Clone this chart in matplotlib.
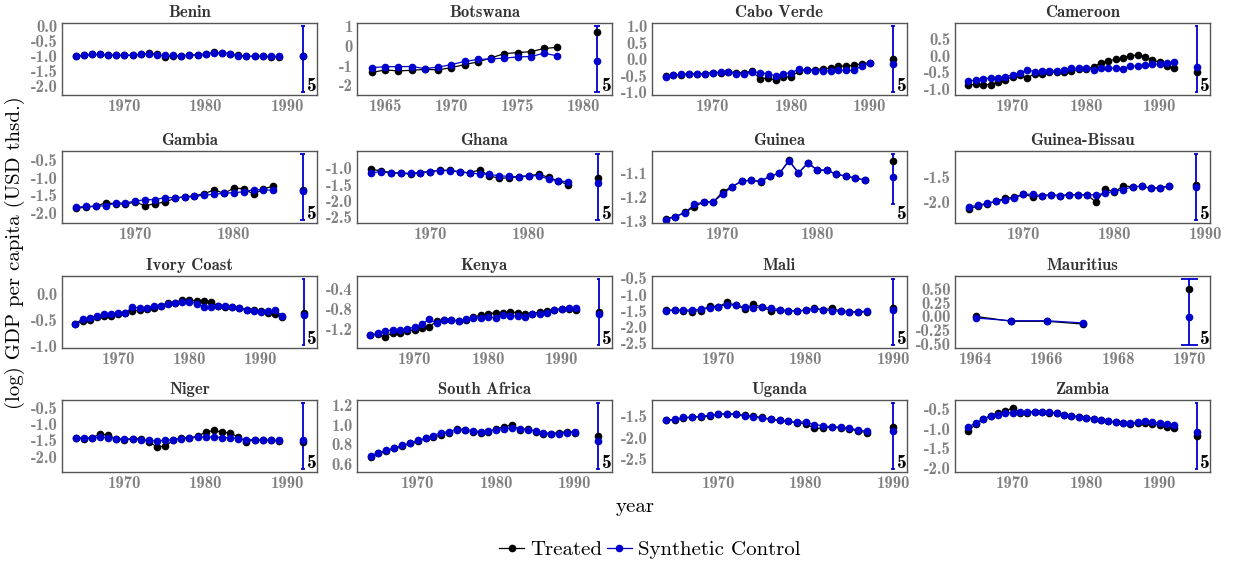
import warnings
import matplotlib
matplotlib.use('Agg')
import matplotlib.pyplot as plt
import numpy as np
from matplotlib.ticker import FixedLocator, MultipleLocator
from matplotlib.lines import Line2D

warnings.filterwarnings('ignore')

plt.rcParams['font.family'] = 'cmb10'
plt.rcParams['axes.unicode_minus'] = False

BLUE = '#0000CD'
FIRST_YEAR = 1964

countries = ['Benin', 'Botswana', 'Cabo Verde', 'Cameroon',
             'Gambia', 'Ghana', 'Guinea', 'Guinea-Bissau',
             'Ivory Coast', 'Kenya', 'Mali', 'Mauritius',
             'Niger', 'South Africa', 'Uganda', 'Zambia']

#
# Treated series (black) and synthetic control (blue), one list per country,
# starting in 1964
#
treated = [
    [-1.00, -0.97, -0.94, -0.94, -0.95, -0.97, -0.97, -0.96, -0.94, -0.90, -0.92, -1.02, -1.00,
     -0.98, -0.96, -0.96, -0.94, -0.87, -0.89, -0.91, -0.97, -1.00, -1.00, -1.00, -1.02, -1.02],
    [-1.35, -1.22, -1.27, -1.24, -1.19, -1.22, -1.10, -0.95, -0.81, -0.61, -0.39, -0.34, -0.29,
     -0.13, -0.07],
    [-0.50, -0.48, -0.46, -0.44, -0.44, -0.44, -0.40, -0.40, -0.38, -0.40, -0.40, -0.36, -0.58,
     -0.57, -0.62, -0.54, -0.52, -0.36, -0.32, -0.32, -0.28, -0.27, -0.21, -0.20, -0.18, -0.13,
     -0.10],
    [-0.87, -0.85, -0.86, -0.86, -0.78, -0.71, -0.63, -0.57, -0.67, -0.53, -0.53, -0.50, -0.49,
     -0.48, -0.45, -0.41, -0.39, -0.34, -0.21, -0.16, -0.11, -0.07, -0.01, 0.02, -0.04, -0.13,
     -0.20, -0.30, -0.37],
    [-1.86, -1.83, -1.80, -1.71, -1.73, -1.75, -1.68, -1.79, -1.73, -1.69, -1.58, -1.54, -1.51,
     -1.45, -1.35, -1.44, -1.30, -1.31, -1.47, -1.32, -1.24],
    [-1.03, -1.08, -1.13, -1.15, -1.18, -1.13, -1.10, -1.06, -1.06, -1.11, -1.14, -1.05, -1.23,
     -1.31, -1.29, -1.26, -1.23, -1.18, -1.28, -1.39, -1.51],
    [-1.288, -1.280, -1.263, -1.240, -1.220, -1.220, -1.179, -1.157, -1.135, -1.131, -1.138,
     -1.114, -1.103, -1.050, -1.103, -1.059, -1.090, -1.090, -1.107, -1.114, -1.123, -1.130],
    [-2.14, -2.09, -2.04, -1.99, -1.93, -1.91, -1.85, -1.90, -1.88, -1.86, -1.88, -1.86, -1.86,
     -1.86, -2.01, -1.74, -1.81, -1.68, -1.70, -1.69, -1.73, -1.72, -1.69],
    [-0.57, -0.52, -0.49, -0.44, -0.41, -0.41, -0.38, -0.36, -0.32, -0.30, -0.29, -0.26, -0.22,
     -0.16, -0.16, -0.10, -0.11, -0.13, -0.12, -0.15, -0.22, -0.25, -0.25, -0.27, -0.30, -0.31,
     -0.32, -0.35, -0.38, -0.43],
    [-1.32, -1.30, -1.35, -1.27, -1.28, -1.23, -1.21, -1.17, -1.15, -1.04, -1.01, -1.01, -1.04,
     -1.01, -0.96, -0.92, -0.89, -0.87, -0.87, -0.85, -0.87, -0.89, -0.89, -0.85, -0.84, -0.81,
     -0.79, -0.79, -0.81],
    [-1.48, -1.48, -1.49, -1.52, -1.49, -1.35, -1.37, -1.24, -1.33, -1.43, -1.30, -1.38, -1.50,
     -1.48, -1.50, -1.50, -1.48, -1.42, -1.47, -1.42, -1.51, -1.52, -1.55, -1.52],
    [0.00, -0.09, -0.09, -0.14],
    [-1.42, -1.45, -1.43, -1.30, -1.35, -1.45, -1.50, -1.45, -1.45, -1.55, -1.70, -1.68, -1.50,
     -1.42, -1.42, -1.38, -1.25, -1.20, -1.25, -1.28, -1.40, -1.55, -1.48, -1.50, -1.50, -1.52],
    [0.67, 0.71, 0.73, 0.76, 0.78, 0.81, 0.83, 0.86, 0.87, 0.90, 0.92, 0.96, 0.95, 0.93, 0.92,
     0.93, 0.96, 0.98, 1.00, 0.95, 0.96, 0.93, 0.91, 0.91, 0.92, 0.93, 0.92],
    [-1.60, -1.58, -1.55, -1.52, -1.52, -1.50, -1.45, -1.45, -1.45, -1.48, -1.50, -1.53, -1.57,
     -1.60, -1.62, -1.65, -1.68, -1.78, -1.78, -1.75, -1.78, -1.80, -1.85, -1.88],
    [-1.05, -0.88, -0.75, -0.66, -0.58, -0.55, -0.45, -0.58, -0.58, -0.57, -0.57, -0.58, -0.60,
     -0.63, -0.66, -0.69, -0.71, -0.74, -0.78, -0.81, -0.83, -0.85, -0.87, -0.85, -0.84, -0.87,
     -0.90, -0.94, -0.98],
]

synthetic = [
    [-1.00, -0.97, -0.94, -0.94, -0.95, -0.97, -0.97, -0.96, -0.94, -0.91, -0.97, -0.97, -0.97,
     -0.98, -0.96, -0.96, -0.91, -0.88, -0.90, -0.91, -1.00, -1.00, -1.00, -1.00, -1.00, -1.00],
    [-1.10, -1.06, -1.05, -1.05, -1.15, -1.08, -0.95, -0.79, -0.69, -0.66, -0.62, -0.56, -0.54,
     -0.37, -0.51],
    [-0.52, -0.48, -0.45, -0.44, -0.44, -0.44, -0.40, -0.39, -0.38, -0.44, -0.44, -0.38, -0.40,
     -0.44, -0.50, -0.44, -0.40, -0.30, -0.32, -0.34, -0.34, -0.35, -0.33, -0.33, -0.33, -0.20,
     -0.10],
    [-0.76, -0.72, -0.69, -0.66, -0.66, -0.63, -0.57, -0.51, -0.42, -0.48, -0.45, -0.45, -0.45,
     -0.42, -0.38, -0.37, -0.37, -0.42, -0.36, -0.37, -0.37, -0.39, -0.31, -0.31, -0.29, -0.25,
     -0.25, -0.21, -0.20],
    [-1.83, -1.81, -1.80, -1.79, -1.72, -1.71, -1.66, -1.62, -1.62, -1.56, -1.56, -1.55, -1.53,
     -1.49, -1.47, -1.44, -1.42, -1.40, -1.34, -1.34, -1.36],
    [-1.13, -1.11, -1.14, -1.15, -1.15, -1.13, -1.10, -1.07, -1.07, -1.11, -1.15, -1.17, -1.19,
     -1.23, -1.25, -1.26, -1.23, -1.23, -1.33, -1.39, -1.41],
    [-1.293, -1.280, -1.265, -1.230, -1.220, -1.220, -1.188, -1.158, -1.135, -1.131, -1.136,
     -1.114, -1.103, -1.052, -1.100, -1.062, -1.090, -1.090, -1.107, -1.114, -1.123, -1.130],
    [-2.10, -2.07, -2.03, -1.99, -1.96, -1.93, -1.85, -1.85, -1.88, -1.86, -1.88, -1.86, -1.86,
     -1.86, -1.86, -1.83, -1.79, -1.76, -1.70, -1.69, -1.73, -1.72, -1.69],
    [-0.57, -0.47, -0.46, -0.41, -0.38, -0.38, -0.35, -0.35, -0.25, -0.26, -0.26, -0.22, -0.22,
     -0.19, -0.17, -0.14, -0.14, -0.18, -0.24, -0.24, -0.22, -0.22, -0.24, -0.26, -0.30, -0.33,
     -0.34, -0.32, -0.31, -0.41],
    [-1.32, -1.28, -1.23, -1.22, -1.22, -1.20, -1.15, -1.10, -1.00, -1.08, -1.01, -1.01, -1.03,
     -1.00, -0.97, -0.97, -0.95, -0.97, -0.91, -0.93, -0.93, -0.95, -0.90, -0.89, -0.88, -0.82,
     -0.79, -0.78, -0.77],
    [-1.50, -1.47, -1.48, -1.47, -1.45, -1.42, -1.37, -1.31, -1.33, -1.39, -1.40, -1.38, -1.42,
     -1.46, -1.49, -1.50, -1.48, -1.45, -1.46, -1.50, -1.51, -1.53, -1.52, -1.51],
    [-0.03, -0.08, -0.08, -0.12],
    [-1.42, -1.43, -1.42, -1.40, -1.42, -1.45, -1.47, -1.45, -1.48, -1.50, -1.52, -1.50, -1.48,
     -1.45, -1.43, -1.40, -1.40, -1.40, -1.42, -1.42, -1.45, -1.48, -1.48, -1.50, -1.50, -1.50],
    [0.68, 0.71, 0.74, 0.76, 0.79, 0.81, 0.84, 0.86, 0.89, 0.92, 0.93, 0.95, 0.95, 0.94, 0.93,
     0.94, 0.95, 0.96, 0.97, 0.96, 0.95, 0.94, 0.92, 0.91, 0.91, 0.92, 0.93],
    [-1.60, -1.57, -1.53, -1.52, -1.50, -1.48, -1.46, -1.44, -1.46, -1.50, -1.52, -1.55, -1.57,
     -1.60, -1.62, -1.64, -1.63, -1.70, -1.72, -1.75, -1.75, -1.78, -1.82, -1.85],
    [-0.95, -0.85, -0.75, -0.68, -0.63, -0.60, -0.58, -0.57, -0.56, -0.56, -0.56, -0.57, -0.60,
     -0.63, -0.66, -0.69, -0.71, -0.74, -0.77, -0.80, -0.82, -0.84, -0.85, -0.83, -0.80, -0.83,
     -0.85, -0.87, -0.90],
]

# post-period summary: year, interval, synthetic and treated values
err_year = [1992, 1981, 1993, 1995, 1987, 1987, 1988, 1989,
            1996, 1995, 1990, 1970, 1992, 1993, 1990, 1995]
err_lo = [-2.18, -2.33, -0.98, -1.07, -2.18, -2.58, -1.227, -2.36,
          -0.97, -1.51, -2.54, -0.52, -2.37, 0.55, -2.72, -2.03]
err_hi = [0.00, 1.00, 1.00, 0.87, -0.35, -0.57, -1.025, -1.05,
          0.29, -0.20, -0.53, 0.68, -0.37, 1.22, -1.20, -0.34]
post_synth = [-1.00, -0.76, -0.15, -0.35, -1.37, -1.44, -1.118, -1.71,
              -0.39, -0.90, -1.48, -0.01, -1.50, 0.83, -1.85, -1.08]
post_treated = [-1.00, 0.72, 0.00, -0.50, -1.35, -1.30, -1.051, -1.66,
                -0.36, -0.85, -1.40, 0.50, -1.55, 0.88, -1.75, -1.19]
n_post = [5] * 16

yticks = [
    [-2.0, -1.5, -1.0, -0.5, 0.0], [-2, -1, 0, 1], [-1.0, -0.5, 0.0, 0.5, 1.0],
    [-1.0, -0.5, 0.0, 0.5], [-2.0, -1.5, -1.0, -0.5], [-2.5, -2.0, -1.5, -1.0],
    [-1.3, -1.2, -1.1], [-2.0, -1.5], [-1.0, -0.5, 0.0], [-1.2, -0.8, -0.4],
    [-2.5, -2.0, -1.5, -1.0, -0.5], [-0.50, -0.25, 0.00, 0.25, 0.50],
    [-2.5, -2.0, -1.5, -1.0, -0.5], [0.6, 0.8, 1.0, 1.2], [-2.5, -2.0, -1.5],
    [-2.0, -1.5, -1.0, -0.5],
]
xstep = [10, 5, 10, 10, 10, 10, 10, 10, 10, 10, 10, 2, 10, 10, 10, 10]

W, H = 1233, 567
col_left = [62, 357, 652, 955]
row_top = [23, 151, 276, 400]
ax_w, ax_h = 255, 72

fig = plt.figure(figsize=(W / 100, H / 100), dpi=100)

for i, name in enumerate(countries):
    r, c = divmod(i, 4)
    ax = fig.add_axes([col_left[c] / W, 1 - (row_top[r] + ax_h) / H, ax_w / W, ax_h / H])
    years = np.arange(FIRST_YEAR, FIRST_YEAR + len(treated[i]))
    ax.plot(years, treated[i], '-o', color='black', ms=4.5, lw=0.9)
    ax.plot(years, synthetic[i], '-o', color=BLUE, ms=4.5, lw=0.9)

    ex = err_year[i]
    ax.vlines(ex, err_lo[i], err_hi[i], color=BLUE, lw=1.3)
    ax.hlines([err_lo[i], err_hi[i]], ex - 0.25, ex + 0.25, color=BLUE, lw=1.3)
    ax.plot(ex, post_treated[i], 'o', color='black', ms=4.5)
    ax.plot(ex, post_synth[i], 'o', color=BLUE, ms=4.5)

    m = 0.05 * (ex - years[0] + 0.5)
    ax.set_xlim(years[0] - 0.25 - m, ex + 0.25 + m)
    ax.yaxis.set_major_locator(FixedLocator(yticks[i]))
    ax.xaxis.set_major_locator(MultipleLocator(xstep[i]))
    ax.tick_params(length=0, labelsize=12, labelcolor='#808080', pad=3)
    for s in ax.spines.values():
        s.set_color('#555555')
        s.set_linewidth(1)
    ax.set_title(name, fontsize=12, color='#333333', pad=4)
    ax.text(1.0, 0.0, str(n_post[i]), transform=ax.transAxes, ha='right',
            va='bottom', fontsize=14, color='black')

fig.text(635 / W, 1 - 507 / H, 'year', ha='center', va='center',
         fontsize=15, family='cmr10')
fig.text(15 / W, 1 - 253 / H, '(log) GDP per capita (USD thsd.)', ha='center',
         va='center', rotation=90, fontsize=15, family='cmr10')

handles = [Line2D([], [], color='black', marker='o', ms=4.5, lw=0.9),
           Line2D([], [], color=BLUE, marker='o', ms=4.5, lw=0.9)]
fig.legend(handles, ['Treated', 'Synthetic Control'], loc='center',
           bbox_to_anchor=(650 / W, 1 - 550 / H), ncol=2, frameon=False,
           prop={'family': 'cmr10', 'size': 15}, handlelength=1.2,
           handletextpad=0.3, columnspacing=0.2)

fig.savefig('out.png', dpi=100)
